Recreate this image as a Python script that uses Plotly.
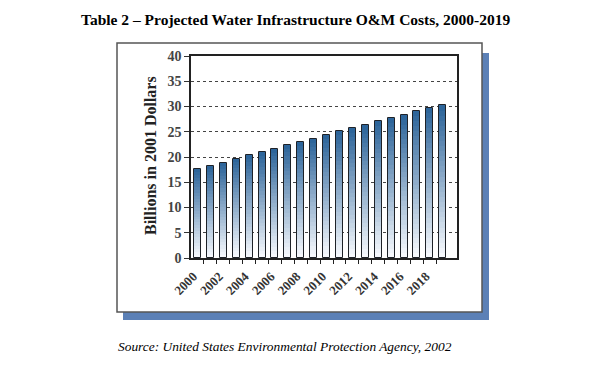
import plotly.graph_objects as go

years = list(range(2000, 2020))
costs = [17.6, 18.2, 18.8, 19.7, 20.3, 20.9, 21.6, 22.4, 23.0, 23.6,
         24.3, 25.1, 25.7, 26.3, 27.1, 27.7, 28.3, 29.1, 29.8, 30.2]
tick_years = list(range(2000, 2020, 2))
tick_labels = [f"<b>{y}</b>" for y in tick_years]
y_ticks = list(range(0, 45, 5))
y_labels = [f"<b>{v}</b>" for v in y_ticks]

OFF = 8  # page body margin
W, H = 590 - OFF, 371 - OFF
# plot-area edges in page pixels
PL, PR, PT, PB = 191, 457, 56, 258

def px(x):
    return (x - PL) / (PR - PL)

def py(y):
    return (PB - y) / (PB - PT)

fig = go.Figure()

N = 30
top = (42, 98, 152)
bot = (250, 252, 255)
for k in range(N):
    frac = (N - k) / N
    t = (N - k - 0.5) / N
    c = tuple(int(round(bot[i] + (top[i] - bot[i]) * t)) for i in range(3))
    fig.add_trace(go.Bar(
        x=years, y=[v * frac for v in costs], width=0.54,
        marker=dict(color=f"rgb{c}", line=dict(width=0)),
        hoverinfo="skip", showlegend=False))

fig.add_trace(go.Bar(
    x=years, y=costs, width=0.54,
    marker=dict(color="rgba(0,0,0,0)", line=dict(color="#1e2228", width=1)),
    showlegend=False))

shapes = [
    dict(type="rect", xref="paper", yref="paper",
         x0=px(123), x1=px(489), y0=py(320), y1=py(53),
         fillcolor="#5b80b6", line=dict(width=0), layer="below"),
    dict(type="rect", xref="paper", yref="paper",
         x0=px(117), x1=px(482), y0=py(312), y1=py(43),
         fillcolor="white", line=dict(color="#555555", width=1.5), layer="below"),
]

annotations = [
    dict(text="<b>Table 2 – Projected Water Infrastructure O&amp;M Costs, 2000-2019</b>",
         xref="paper", yref="paper", x=px(295), y=py(19), showarrow=False,
         font=dict(family="Liberation Serif", size=15.5, color="black"),
         xanchor="center", yanchor="middle"),
    dict(text="<i>Source: United States Environmental Protection Agency, 2002</i>",
         xref="paper", yref="paper", x=px(285), y=py(346), showarrow=False,
         font=dict(family="Liberation Serif", size=13.4, color="black"),
         xanchor="center", yanchor="middle"),
    dict(text="<b>Billions in 2001 Dollars</b>",
         xref="paper", yref="paper", x=px(150), y=py(156), showarrow=False,
         textangle=-90,
         font=dict(family="Liberation Serif", size=16, color="#222222"),
         xanchor="center", yanchor="middle"),
]

fig.update_layout(
    width=W, height=H,
    margin=dict(l=PL - OFF, r=W - (PR - OFF), t=PT - OFF, b=H - (PB - OFF), pad=0),
    paper_bgcolor="white", plot_bgcolor="rgba(0,0,0,0)",
    barmode="overlay", bargap=0,
    shapes=shapes, annotations=annotations,
    xaxis=dict(
        range=[1999.5, 2020.1],
        tickmode="array", tickvals=tick_years, ticktext=tick_labels,
        tickangle=-45, ticks="", showgrid=False,
        ticklabelshift=-4, ticklabelstandoff=4,
        minor=dict(ticks="outside", tickmode="array",
                   tickvals=[y + 0.5 for y in years[:-1]],
                   ticklen=4, tickcolor="#222222", tickwidth=1),
        showline=True, linecolor="#222222", linewidth=1.5, mirror=True,
        tickfont=dict(family="Liberation Serif", size=13, color="#333333"),
        zeroline=False,
    ),
    yaxis=dict(
        range=[0, 40], tickmode="array", tickvals=y_ticks, ticktext=y_labels,
        ticks="outside", ticklen=5, tickcolor="#333333",
        showgrid=True, gridcolor="#444444", gridwidth=1, griddash="3px,3px",
        showline=True, linecolor="#222222", linewidth=1.5, mirror=True,
        tickfont=dict(family="Liberation Serif", size=14, color="#444444"),
        zeroline=False,
    ),
)

fig.write_html("out.html")
